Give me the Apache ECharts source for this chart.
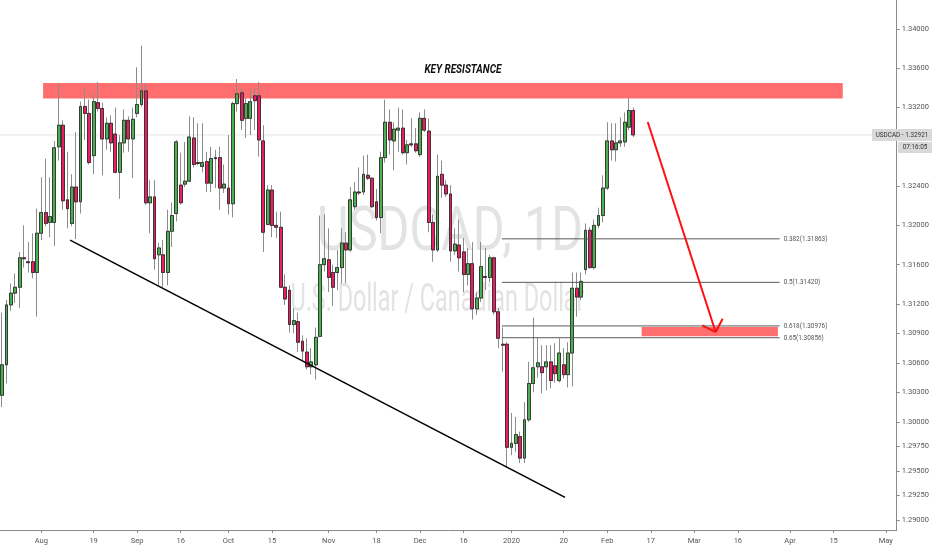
<!DOCTYPE html>
<html>
<head>
<meta charset="utf-8">
<script src="https://cdn.jsdelivr.net/npm/echarts@6/dist/echarts.min.js"></script>
<style>
html,body{margin:0;padding:0;background:#fff;}
#main{width:932px;height:550px;}
</style>
</head>
<body>
<div id="main"></div>
<script>
// ---------- DATA (USDCAD daily) ----------
const open = [1.3027,1.3058,1.3119,1.3131,1.3137,1.3167,1.3163,1.3163,1.3152,1.3192,
1.3213,1.3203,1.3203,1.3280,1.3302,1.3226,1.3202,1.3239,1.3224,1.3321,
1.3314,1.3271,1.3325,1.3319,1.3288,1.3304,1.3293,1.3254,1.3284,1.3307,
1.3288,1.3314,1.3323,1.3337,1.3223,1.3229,1.3170,1.3170,1.3152,1.3194,
1.3212,1.3241,1.3242,1.3245,1.3289,1.3264,1.3260,1.3265,1.3243,1.3269,
1.3269,1.3238,1.3238,1.3222,1.3324,1.3335,1.3309,1.3309,1.3332,1.3332,
1.3286,1.3201,1.3236,1.3200,1.3198,1.3137,1.3134,1.3099,1.3102,1.3082,
1.3071,1.3056,1.3058,1.3087,1.3160,1.3165,1.3152,1.3152,1.3157,1.3182,
1.3175,1.3219,1.3234,1.3234,1.3251,1.3248,1.3224,1.3208,1.3269,1.3305,
1.3286,1.3297,1.3299,1.3274,1.3283,1.3283,1.3272,1.3309,1.3296,1.3203,
1.3175,1.3252,1.3241,1.3232,1.3174,1.3180,1.3173,1.3150,1.3161,1.3115,
1.3126,1.3148,1.3147,1.3167,1.3112,1.3079,1.3079,1.2974,1.2978,1.2985,
1.2963,1.3002,1.3039,1.3056,1.3056,1.3056,1.3061,1.3057,1.3042,1.3058,
1.3048,1.3070,1.3136,1.3127,1.3155,1.3195,1.3157,1.3200,1.3210,1.3238,
1.3286,1.3277,1.3284,1.3285,1.3300,1.3317];
const close = [1.3058,1.3119,1.3131,1.3137,1.3167,1.3166,1.3162,1.3152,1.3192,1.3213,
1.3202,1.3209,1.3279,1.3302,1.3225,1.3217,1.3239,1.3224,1.3321,1.3314,
1.3264,1.3326,1.3319,1.3288,1.3304,1.3284,1.3254,1.3284,1.3307,1.3288,
1.3308,1.3323,1.3337,1.3223,1.3229,1.3166,1.3177,1.3152,1.3194,1.3210,
1.3285,1.3223,1.3245,1.3290,1.3262,1.3263,1.3264,1.3243,1.3268,1.3268,
1.3238,1.3242,1.3222,1.3324,1.3334,1.3307,1.3324,1.3326,1.3327,1.3287,
1.3193,1.3236,1.3200,1.3198,1.3137,1.3125,1.3099,1.3103,1.3081,1.3072,
1.3056,1.3061,1.3086,1.3160,1.3166,1.3147,1.3137,1.3157,1.3182,1.3175,
1.3226,1.3234,1.3233,1.3252,1.3248,1.3219,1.3208,1.3269,1.3305,1.3287,
1.3298,1.3299,1.3274,1.3282,1.3282,1.3276,1.3309,1.3297,1.3203,1.3175,
1.3250,1.3241,1.3232,1.3174,1.3181,1.3167,1.3150,1.3161,1.3115,1.3126,
1.3158,1.3147,1.3167,1.3112,1.3085,1.3078,1.2974,1.2978,1.2987,1.2963,
1.3002,1.3039,1.3055,1.3060,1.3050,1.3061,1.3042,1.3049,1.3070,1.3048,
1.3070,1.3136,1.3127,1.3143,1.3195,1.3157,1.3200,1.3210,1.3238,1.3286,
1.3277,1.3284,1.3286,1.3305,1.3317,1.32921];
const low = [1.3015,1.3039,1.3113,1.3121,1.3116,1.3157,1.3152,1.3146,1.3107,1.3185,
1.3199,1.3188,1.3179,1.3266,1.3216,1.3197,1.3199,1.3186,1.3212,1.3287,
1.3262,1.3252,1.3316,1.3251,1.3277,1.3275,1.3253,1.3227,1.3274,1.3275,
1.3248,1.3310,1.3321,1.3221,1.3192,1.3155,1.3139,1.3137,1.3139,1.3178,
1.3204,1.3221,1.3239,1.3244,1.3259,1.3261,1.3254,1.3234,1.3234,1.3238,
1.3216,1.3233,1.3211,1.3208,1.3316,1.3297,1.3289,1.3292,1.3297,1.3270,
1.3173,1.3200,1.3188,1.3187,1.3136,1.3119,1.3091,1.3090,1.3071,1.3063,
1.3053,1.3048,1.3043,1.3086,1.3153,1.3132,1.3118,1.3134,1.3141,1.3141,
1.3173,1.3216,1.3231,1.3231,1.3246,1.3218,1.3205,1.3192,1.3264,1.3272,
1.3256,1.3275,1.3272,1.3262,1.3280,1.3274,1.3270,1.3295,1.3193,1.3163,
1.3173,1.3228,1.3229,1.3163,1.3170,1.3153,1.3132,1.3139,1.3104,1.3109,
1.3122,1.3134,1.3142,1.3109,1.3075,1.3051,1.2953,1.2966,1.2969,1.2958,
1.2958,1.3000,1.3030,1.3045,1.3029,1.3032,1.3034,1.3040,1.3040,1.3044,
1.3035,1.3036,1.3107,1.3124,1.3150,1.3156,1.3155,1.3197,1.3203,1.3236,
1.3266,1.3265,1.3280,1.3280,1.3297,1.3290];
const high = [1.3111,1.3124,1.3141,1.3151,1.3173,1.3200,1.3183,1.3192,1.3217,1.3249,
1.3268,1.3249,1.3286,1.3345,1.3307,1.3275,1.3252,1.3295,1.3326,1.3341,
1.3328,1.3334,1.3346,1.3325,1.3310,1.3312,1.3320,1.3292,1.3318,1.3311,
1.3320,1.3361,1.3383,1.3345,1.3246,1.3246,1.3182,1.3185,1.3216,1.3223,
1.3287,1.3274,1.3285,1.3311,1.3310,1.3304,1.3304,1.3275,1.3280,1.3277,
1.3280,1.3262,1.3292,1.3326,1.3349,1.3340,1.3330,1.3338,1.3340,1.3346,
1.3302,1.3241,1.3241,1.3214,1.3214,1.3150,1.3139,1.3116,1.3111,1.3088,
1.3085,1.3075,1.3096,1.3210,1.3211,1.3197,1.3160,1.3175,1.3197,1.3193,
1.3239,1.3244,1.3259,1.3271,1.3272,1.3249,1.3237,1.3275,1.3328,1.3318,
1.3305,1.3320,1.3318,1.3287,1.3309,1.3299,1.3315,1.3318,1.3309,1.3211,
1.3272,1.3266,1.3246,1.3241,1.3197,1.3206,1.3187,1.3177,1.3183,1.3132,
1.3183,1.3177,1.3170,1.3168,1.3116,1.3096,1.3081,1.3009,1.3005,1.2990,
1.3020,1.3061,1.3106,1.3086,1.3078,1.3078,1.3078,1.3080,1.3085,1.3075,
1.3081,1.3152,1.3152,1.3152,1.3202,1.3198,1.3206,1.3218,1.3251,1.3305,
1.3304,1.3304,1.3310,1.3315,1.3331,1.3320];

const xTickDates = ['2019-08-01','2019-08-19','2019-09-02','2019-09-16','2019-10-01','2019-10-15','2019-11-01','2019-11-18','2019-12-02','2019-12-16','2020-01-02','2020-01-20','2020-02-03','2020-02-17','2020-03-02','2020-03-16','2020-04-01','2020-04-15','2020-05-01'];
const xTickLabels = ['Aug','19','Sep','16','Oct','15','Nov','18','Dec','16','2020','20','Feb','17','Mar','16','Apr','15','May'];
const yTickValues = [1.29,1.2925,1.295,1.2975,1.30,1.303,1.306,1.309,1.312,1.316,1.32,1.324,1.332,1.336,1.34];

// annotations: [category index, price]
const resistanceZone = [[9.4, 1.33450],[193.1, 1.33292]];
const trendLine = [[15.6, 1.3185],[129.3, 1.2923]];
const fibRange = [114.8, 178.6];
const fibLevels = [['0.382',1.31863],['0.5',1.31420],['0.618',1.30976],['0.65',1.30856]];
const targetZone = [[146.9, 1.30976],[178.2, 1.30870]];
const arrowLine = [[148.3, 1.33053],[163.9, 1.30914]];
const watermarkAnchors = [[102.9, 1.31902],[100.0, 1.31230]];
const lastPrice = 1.32921;
const countdown = '07:16:05';

// ---------- trading-day categories ----------
const categories = [];
const skip = {'2019-12-25':1,'2020-01-01':1};
for (let t = Date.UTC(2019,6,19); t <= Date.UTC(2020,4,5); t += 86400000) {
  const d = new Date(t); const wd = d.getUTCDay();
  if (wd === 0 || wd === 6) continue;
  const s = d.toISOString().slice(0,10);
  if (skip[s]) continue;
  categories.push(s);
}
const tickMap = {}; xTickDates.forEach((d,i)=>tickMap[d]=xTickLabels[i]);

const full = open.map((o,i)=>[o, close[i], low[i], high[i]]);
const bodies = open.map((o,i)=>[o, close[i], Math.min(o,close[i]), Math.max(o,close[i])]);

const UP = '#4caf50', DOWN = '#e91e63';
const chart = echarts.init(document.getElementById('main'));
const AX = '#8a8a8a';
chart.setOption({
  animation:false,
  backgroundColor:'#ffffff',
  grid:{left:0, right:35, top:0, bottom:20},
  xAxis:{
    type:'category', data:categories, boundaryGap:true,
    axisLine:{lineStyle:{color:AX,width:1}},
    axisTick:{show:true, alignWithLabel:true, length:3, lineStyle:{color:AX},
      interval:(i,v)=>tickMap[v]!==undefined},
    axisLabel:{interval:(i,v)=>tickMap[v]!==undefined, formatter:v=>tickMap[v]||'',
      fontSize:7.5, color:'#555', margin:7, fontFamily:'Roboto'},
    splitLine:{show:false}
  },
  yAxis:{
    type:'value', position:'right', min:1.28898, max:1.34295, scale:true,
    axisLine:{show:true, lineStyle:{color:AX,width:1}},
    axisTick:{show:true, length:3, lineStyle:{color:AX}, customValues:yTickValues},
    axisLabel:{customValues:yTickValues, formatter:v=>v.toFixed(5), fontSize:7.5, color:'#555', margin:5, fontFamily:'Roboto'},
    splitLine:{show:false}
  },
  series:[
    {type:'candlestick', data:full, barWidth:3.4, silent:true, z:2,
     itemStyle:{color:UP, color0:DOWN, borderColor:'#8c8c8c', borderColor0:'#8c8c8c', borderWidth:1}},
    {type:'candlestick', data:bodies, barWidth:3.4, silent:true, z:3,
     itemStyle:{color:UP, color0:DOWN, borderColor:'#262626', borderColor0:'#262626', borderWidth:0.8}}
  ]
});

// ---------- annotations positioned through the chart's own scales ----------
const N = categories.length;
function px(idx, val){
  const a = chart.convertToPixel({xAxisIndex:0,yAxisIndex:0},[0,val]);
  const b = chart.convertToPixel({xAxisIndex:0,yAxisIndex:0},[N-1,val]);
  return [a[0] + idx*(b[0]-a[0])/(N-1), a[1]];
}
const mctx = document.createElement('canvas').getContext('2d');
function fit(text, font, w){ mctx.font = font; return w / mctx.measureText(text).width; }

const g = [];
// watermark
const wm1 = 'USDCAD, 1D', wm1f = '62px Roboto';
const wmC1 = px(watermarkAnchors[0][0], watermarkAnchors[0][1]), wmC2 = px(watermarkAnchors[1][0], watermarkAnchors[1][1]);
g.push({type:'text', x:wmC1[0], y:wmC1[1], z:0, scaleX:fit(wm1, wm1f, 266), silent:true,
  style:{text:wm1, font:wm1f, fill:'#e3e3e3', align:'center', verticalAlign:'middle'}});
const wm2 = 'U.S. Dollar / Canadian Dollar', wm2f = '39px Roboto';
g.push({type:'text', x:wmC2[0], y:wmC2[1], z:0, scaleX:fit(wm2, wm2f, 294), silent:true,
  style:{text:wm2, font:wm2f, fill:'#e3e3e3', align:'center', verticalAlign:'middle'}});

// last-price line
const lp0 = px(0, lastPrice), lp1 = px(N-1, lastPrice);
g.push({type:'line', z:1, silent:true, shape:{x1:0, y1:lp0[1], x2:lp1[0], y2:lp0[1]},
  style:{stroke:'#e4e4e4', lineWidth:1}});

// resistance zone
const r0 = px(resistanceZone[0][0], resistanceZone[0][1]), r1 = px(resistanceZone[1][0], resistanceZone[1][1]);
g.push({type:'rect', z:1, silent:true, shape:{x:r0[0], y:r0[1], width:r1[0]-r0[0], height:r1[1]-r0[1]},
  style:{fill:'#ff6e6e'}});
const krf = 'italic bold 12px Roboto';
g.push({type:'text', z:5, silent:true, x:(r0[0]+r1[0])/2+20, y:r0[1]-13, scaleX:fit('KEY RESISTANCE', krf, 77),
  style:{text:'KEY RESISTANCE', font:krf, fill:'#111', align:'center', verticalAlign:'middle'}});

// fib levels
fibLevels.forEach(([lvl, v])=>{
  const a = px(fibRange[0], v), b = px(fibRange[1], v);
  g.push({type:'line', z:5, silent:true, shape:{x1:a[0], y1:a[1], x2:b[0], y2:b[1]},
    style:{stroke:'#5a5a5a', lineWidth:1}});
  const t = lvl + '(' + v.toFixed(5) + ')';
  g.push({type:'text', z:5, silent:true, x:b[0]+4, y:a[1], scaleX:0.8,
    style:{text:t, font:'8px Roboto', fill:'#555', align:'left', verticalAlign:'middle'}});
});
// target zone
const t0 = px(targetZone[0][0], targetZone[0][1]), t1 = px(targetZone[1][0], targetZone[1][1]);
g.push({type:'rect', z:4, silent:true, shape:{x:t0[0], y:t0[1]+1, width:t1[0]-t0[0], height:t1[1]-t0[1]-1},
  style:{fill:'#ff6e6e'}});

// trend line
const l0 = px(trendLine[0][0], trendLine[0][1]), l1 = px(trendLine[1][0], trendLine[1][1]);
g.push({type:'line', z:10, silent:true, shape:{x1:l0[0], y1:l0[1], x2:l1[0], y2:l1[1]},
  style:{stroke:'#000', lineWidth:1.6}});

// arrow
const a0 = px(arrowLine[0][0], arrowLine[0][1]), a1 = px(arrowLine[1][0], arrowLine[1][1]);
g.push({type:'line', z:10, silent:true, shape:{x1:a0[0], y1:a0[1], x2:a1[0], y2:a1[1]},
  style:{stroke:'#ff1010', lineWidth:2}});
const ang = Math.atan2(a0[1]-a1[1], a0[0]-a1[0]);
[-0.8, 0.8].forEach(d=>{
  g.push({type:'line', z:10, silent:true, shape:{x1:a1[0], y1:a1[1], x2:a1[0]+15*Math.cos(ang+d), y2:a1[1]+15*Math.sin(ang+d)},
    style:{stroke:'#ff1010', lineWidth:2}});
});

// price label boxes
g.push({type:'rect', z:20, silent:true, shape:{x:872, y:lp0[1]-6, width:60, height:12}, style:{fill:'#d9d9d9'}});
g.push({type:'text', z:21, silent:true, x:902, y:lp0[1], scaleX:0.85,
  style:{text:'USDCAD - ' + lastPrice.toFixed(5), font:'7.5px Roboto', fill:'#333', align:'center', verticalAlign:'middle'}});
g.push({type:'rect', z:20, silent:true, shape:{x:898, y:lp0[1]+7, width:34, height:11}, style:{fill:'#d9d9d9'}});
g.push({type:'text', z:21, silent:true, x:915, y:lp0[1]+12.5, scaleX:0.85,
  style:{text:countdown, font:'7.5px Roboto', fill:'#333', align:'center', verticalAlign:'middle'}});

chart.setOption({graphic:g});
</script>
</body>
</html>
